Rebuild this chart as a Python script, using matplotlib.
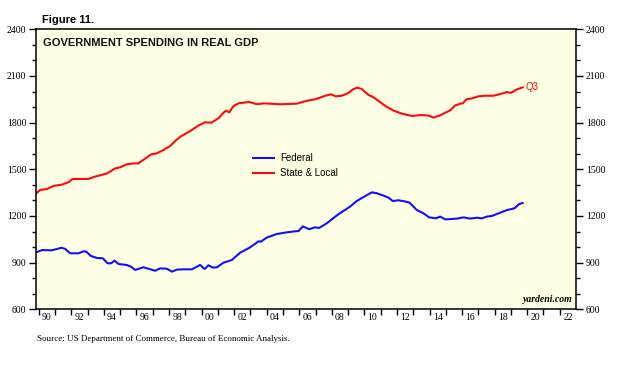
import matplotlib
matplotlib.use('Agg')
import matplotlib.pyplot as plt
from matplotlib.ticker import FixedLocator, NullFormatter

# Federal / State & Local real government spending
fed_years = [1989.84, 1990.2, 1990.8, 1991.4, 1991.62, 1991.93, 1992.44, 1992.75, 1992.91,
             1993.2, 1993.57, 1993.93, 1994.22, 1994.45, 1994.65, 1994.9, 1995.4, 1995.67,
             1995.92, 1996.43, 1997.15, 1997.45, 1997.87, 1998.17, 1998.48, 1998.89,
             1999.4, 1999.91, 2000.18, 2000.42, 2000.69, 2000.94, 2001.35, 2001.86,
             2002.37, 2002.98, 2003.5, 2003.64, 2004.0, 2004.62, 2005.13, 2005.69,
             2005.95, 2006.22, 2006.6, 2006.97, 2007.22, 2007.69, 2008.4, 2009.12,
             2009.53, 2010.05, 2010.46, 2010.76, 2011.17, 2011.48, 2011.74, 2012.09,
             2012.46, 2012.77, 2013.22, 2013.63, 2013.98, 2014.41, 2014.65, 2014.97,
             2015.68, 2016.09, 2016.5, 2016.91, 2017.22, 2017.53, 2017.83, 2018.24,
             2018.76, 2019.21, 2019.51, 2019.72]
fed_values = [966, 981, 979, 996, 988, 960, 960, 973, 971,
              943, 930, 928, 896, 896, 913, 891, 885, 874,
              853, 870, 848, 863, 861, 842, 855, 857,
              857, 885, 859, 883, 868, 870, 900, 917,
              964, 998, 1037, 1035, 1061, 1084, 1093, 1101,
              1103, 1133, 1115, 1127, 1123, 1153, 1211, 1260,
              1296, 1328, 1352, 1346, 1331, 1318, 1296, 1301,
              1294, 1286, 1238, 1217, 1191, 1185, 1196, 1178,
              1183, 1191, 1183, 1189, 1185, 1196, 1200, 1217,
              1238, 1249, 1277, 1283]

sl_years = [1989.84, 1990.08, 1990.5, 1990.9, 1991.4, 1991.8, 1992.1, 1992.5, 1993.05,
            1993.46, 1994.2, 1994.7, 1995.0, 1995.4, 1995.8, 1996.1, 1996.5, 1996.9,
            1997.25, 1997.66, 1998.07, 1998.38, 1998.7, 1999.3, 1999.8, 2000.2, 2000.6,
            2001.04, 2001.35, 2001.5, 2001.7, 2001.96, 2002.27, 2002.92, 2003.4, 2003.8,
            2004.2, 2004.8, 2005.85, 2006.26, 2006.55, 2006.97, 2007.6, 2007.96, 2008.24,
            2008.6, 2008.98, 2009.33, 2009.57, 2009.84, 2010.25, 2010.56, 2010.97,
            2011.38, 2011.8, 2012.3, 2012.9, 2013.5, 2013.98, 2014.24, 2014.65, 2014.97,
            2015.27, 2015.58, 2015.9, 2016.05, 2016.26, 2016.6, 2017.0, 2017.4, 2017.94,
            2018.35, 2018.76, 2019.0, 2019.37, 2019.72]
sl_values = [1345, 1367, 1373, 1393, 1401, 1416, 1438, 1438, 1438,
             1453, 1474, 1506, 1513, 1532, 1538, 1538, 1566, 1596,
             1603, 1624, 1650, 1682, 1710, 1746, 1781, 1802, 1800,
             1828, 1864, 1877, 1866, 1907, 1924, 1933, 1918, 1924,
             1922, 1918, 1922, 1935, 1942, 1950, 1973, 1982, 1969,
             1973, 1988, 2016, 2025, 2016, 1978, 1963, 1931,
             1901, 1877, 1858, 1843, 1849, 1845, 1832, 1847, 1864,
             1879, 1911, 1922, 1924, 1950, 1956, 1969, 1973, 1973,
             1984, 1997, 1991, 2014, 2027]

year_labels = ["90", "92", "94", "96", "98", "00", "02", "04", "06", "08", "10",
               "12", "14", "16", "18", "20", "22"]
label_years = [1990, 1992, 1994, 1996, 1998, 2000, 2002, 2004, 2006, 2008, 2010,
               2012, 2014, 2016, 2018, 2020, 2022]
y_ticks = [600, 900, 1200, 1500, 1800, 2100, 2400]

SANS = "Liberation Sans"
SERIF = "Liberation Serif"

fig = plt.figure(figsize=(6.19, 3.71), dpi=100)
ax = fig.add_axes([0.0582, 0.1663, 0.8724, 0.7547])
ax.set_facecolor("#ffffe6")

ax.plot(fed_years, fed_values, color="#1010ff", lw=1.5, label="Federal")
ax.plot(sl_years, sl_values, color="#ff0a0a", lw=1.5, label="State & Local")

ax.set_xlim(1989.83, 2023.0)
ax.set_ylim(600, 2400)

# x: ticks at each year start, labels centred mid-year
ax.xaxis.set_major_locator(FixedLocator(list(range(1990, 2023))))
ax.xaxis.set_major_formatter(NullFormatter())
ax.xaxis.set_minor_locator(FixedLocator([y + 0.5 for y in label_years]))
ax.set_xticklabels(year_labels, minor=True)
ax.tick_params(axis="x", which="major", direction="out", length=4, width=1)
ax.tick_params(axis="x", which="minor", length=0, pad=3, labelsize=7)

# y: both sides
ax.set_yticks(y_ticks)
ax.yaxis.set_minor_locator(FixedLocator(list(range(600, 2401, 100))))
ax.tick_params(axis="y", which="both", direction="out", left=True, right=True,
               labelleft=True, labelright=True, labelsize=7, width=1)
ax.tick_params(axis="y", which="major", length=5, pad=2)
ax.tick_params(axis="y", which="minor", length=3)

for lab in ax.get_xticklabels(minor=True) + ax.get_yticklabels():
    lab.set_family(SERIF)
for sp in ax.spines.values():
    sp.set_linewidth(1.1)

fig.text(0.068, 0.947, "Figure 11.", fontsize=8, fontweight="bold", family=SANS,
         va="center")
ax.text(0.013, 0.968, "GOVERNMENT SPENDING IN REAL GDP", transform=ax.transAxes,
        fontsize=8, fontweight="bold", family=SANS, va="top", color="#111111")

ax.text(sl_years[-1] + 0.2, sl_values[-1], "Q3", color="#ff0a0a", fontsize=7,
        family=SANS, va="center")

# legend in the middle of the plot
ax.legend(loc="center left", bbox_to_anchor=(0.385, 0.513), frameon=False,
          prop={"family": SANS, "size": 7}, handlelength=2.2, handletextpad=0.6,
          labelspacing=0.55)

ax.text(0.993, 0.02, "yardeni.com", transform=ax.transAxes, ha="right", va="bottom",
        fontsize=7, style="italic", fontweight="bold", family=SERIF)

fig.text(0.06, 0.086, "Source: US Department of Commerce, Bureau of Economic Analysis.",
         fontsize=6.5, family=SERIF, va="center")

fig.savefig("out.png", dpi=100)
plt.close(fig)
